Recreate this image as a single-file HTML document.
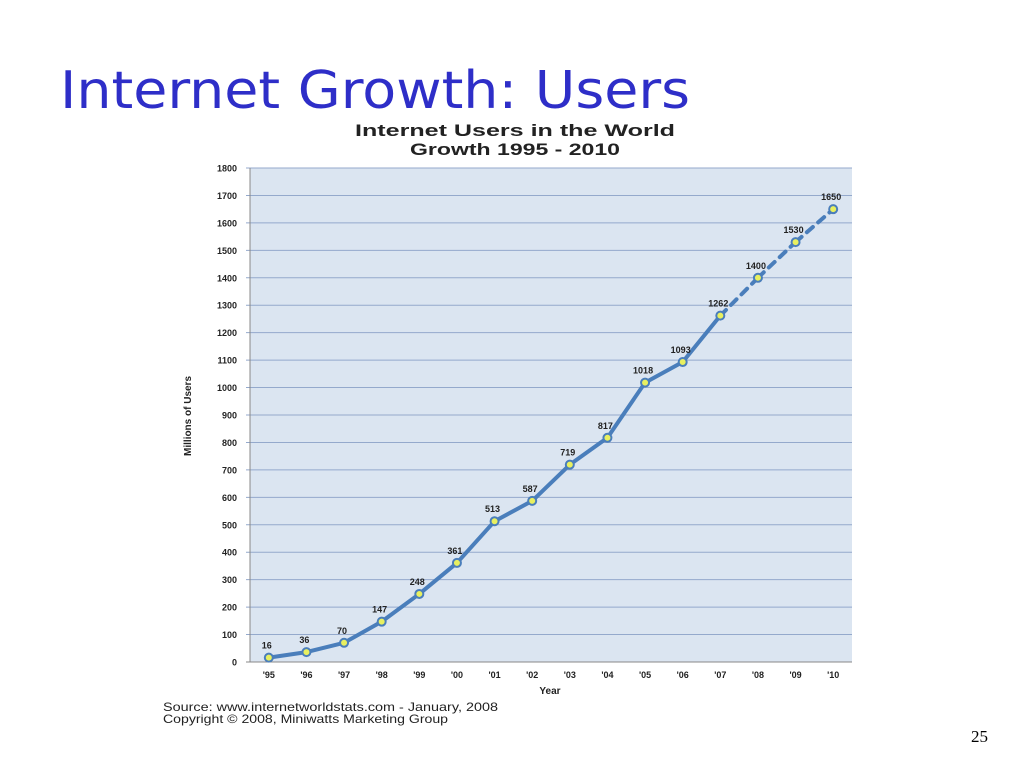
<!DOCTYPE html>
<html><head><meta charset="utf-8"><style>
body{margin:0;background:#fff;width:1024px;height:768px;overflow:hidden;font-family:"Liberation Sans",sans-serif}
</style></head><body>
<svg width="1024" height="768">
<text x="60" y="108" textLength="630" lengthAdjust="spacingAndGlyphs" font-family="'Comic Sans MS','DejaVu Sans',sans-serif" font-size="52" fill="#2e2ec8">Internet Growth: Users</text>
<text x="355" y="136" textLength="320" lengthAdjust="spacingAndGlyphs" font-size="17" font-weight="bold" fill="#222">Internet Users in the World</text>
<text x="410" y="155" textLength="210" lengthAdjust="spacingAndGlyphs" font-size="17" font-weight="bold" fill="#222">Growth 1995 - 2010</text>
<rect x="250" y="168" width="602" height="494" fill="#dbe5f1"/>
<g id="grid"></g><g id="series"></g>
<text transform="translate(191,416) rotate(-90)" text-anchor="middle" font-size="10" font-weight="bold" fill="#222">Millions of Users</text>
<text x="550" y="694" text-anchor="middle" font-size="10" font-weight="bold" fill="#222">Year</text>
<text x="163" y="711" textLength="335" lengthAdjust="spacingAndGlyphs" font-size="12" fill="#222">Source: www.internetworldstats.com - January, 2008</text>
<text x="163" y="723" textLength="285" lengthAdjust="spacingAndGlyphs" font-size="12" fill="#222">Copyright © 2008, Miniwatts Marketing Group</text>
<text x="988" y="742" text-anchor="end" font-family="'Liberation Serif',serif" font-size="17" fill="#000">25</text>
</svg>
<script>
const categories=["'95","'96","'97","'98","'99","'00","'01","'02","'03","'04","'05","'06","'07","'08","'09","'10"];
const users=[16,36,70,147,248,361,513,587,719,817,1018,1093,1262,1400,1530,1650];
const yTicks=[0,100,200,300,400,500,600,700,800,900,1000,1100,1200,1300,1400,1500,1600,1700,1800];
const firstProjected=12;
const NS="http://www.w3.org/2000/svg";
const L=250,R=852,T=168,B=662,YMAX=1800;
const y=v=>B-(v/YMAX)*(B-T);
const step=(R-L)/categories.length;
const x=i=>L+step*(i+0.5);
function mk(tag,attrs,parent,text){const e=document.createElementNS(NS,tag);for(const k in attrs)e.setAttribute(k,attrs[k]);if(text!==undefined)e.textContent=text;parent.appendChild(e);return e;}
const g=document.getElementById('grid'),s=document.getElementById('series');
yTicks.forEach(v=>{
 const l=mk('line',{x1:L-4,x2:R,y1:y(v),y2:y(v),stroke:v===0?'#888':'#94a9cc','stroke-width':1},g);
 
 
 const t=mk('text',{x:L-13,y:y(v)+3.5,'text-anchor':'end','font-size':9,'font-weight':'bold',fill:'#222'},g,v);
 
 
});
const ax=mk('line',{x1:L,x2:L,y1:T,y2:B,stroke:'#888'},g);


categories.forEach((c,i)=>{
 const t=mk('text',{x:x(i),y:678,'text-anchor':'middle','font-size':9,'font-weight':'bold',fill:'#222'},g,c);
 
 
});
for(let i=0;i<users.length-1;i++){
 const dashed=i>=firstProjected;
 const l=mk('line',{x1:x(i),y1:y(users[i]),x2:x(i+1),y2:y(users[i+1]),stroke:'#4a7ebb','stroke-width':4,'stroke-linecap':'round'},s);
 if(dashed)l.setAttribute('stroke-dasharray','8 7');
 
 
}
users.forEach((v,i)=>{
 const c=mk('circle',{cx:x(i),cy:y(v),r:4,fill:'#e8f060',stroke:'#4a7ebb','stroke-width':2},s);
 
 
 const t=mk('text',{x:x(i)-2,y:y(v)-9,'text-anchor':'middle','font-size':9,'font-weight':'bold',fill:'#222'},s,v);
 
 
});
</script>
</body></html>
